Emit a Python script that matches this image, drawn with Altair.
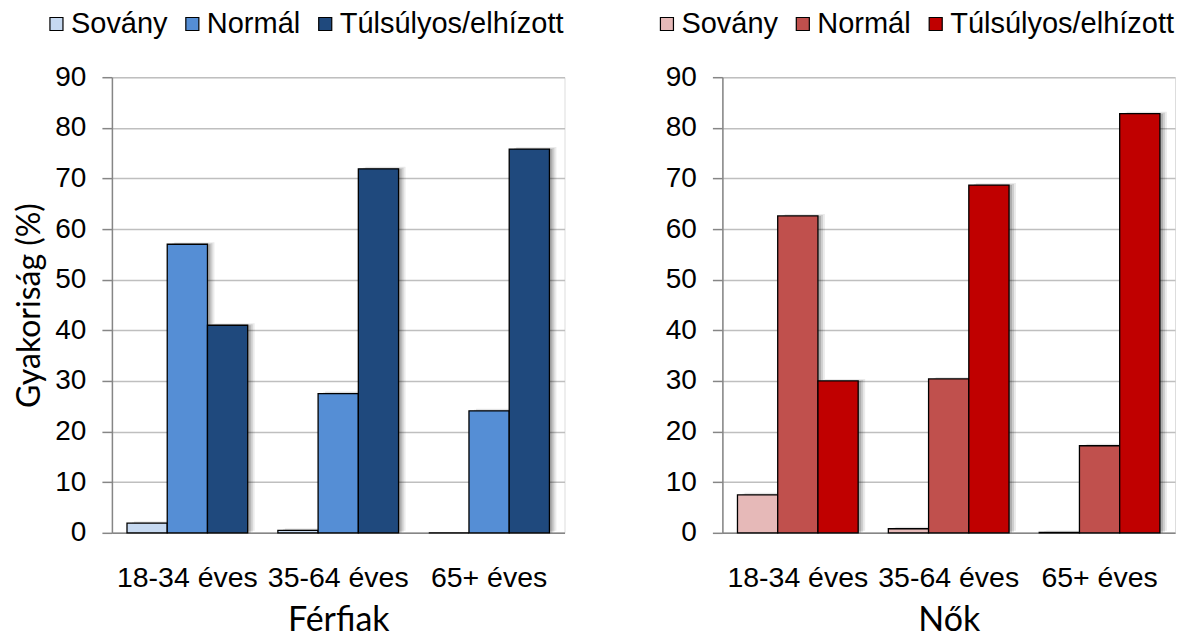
import altair as alt
import pandas as pd

ages = ["18-34 éves", "35-64 éves", "65+ éves"]
cats = ["Sovány", "Normál", "Túlsúlyos/elhízott"]

ferfi_sovany = [1.9, 0.5, 0.0]
ferfi_normal = [57.0, 27.5, 24.1]
ferfi_tul = [41.0, 71.9, 75.8]

no_sovany = [7.5, 0.8, 0.1]
no_normal = [62.6, 30.4, 17.2]
no_tul = [30.0, 68.7, 82.8]

ferfi_colors = ["#C6D9F1", "#558ED5", "#1F497D"]
no_colors = ["#E6B9B8", "#C0504D", "#C00000"]

y_ticks = [0, 10, 20, 30, 40, 50, 60, 70, 80, 90]

PW = 453
BW = PW / 3 * 0.8  # group band width


def long_df(s, n, t):
    rows = []
    for i, a in enumerate(ages):
        for c, v in zip(cats, [s[i], n[i], t[i]]):
            rows.append({"age": a, "cat": c, "val": v})
    return pd.DataFrame(rows)


def panel(df, colors, ytitle, xtitle, lx):
    base = alt.Chart(df)
    x = alt.X("age:N", sort=ages,
              scale=alt.Scale(paddingInner=0.2, paddingOuter=0.1),
              axis=alt.Axis(title=xtitle, labelAngle=0, ticks=False, tickSize=0,
                            labelPadding=31, labelFont="Liberation Sans",
                            labelFontSize=28.5, labelColor="black",
                            titleFont="Lato", titleFontSize=34,
                            titleFontWeight="normal", titleColor="black",
                            titlePadding=11, domainColor="#868686",
                            domainWidth=1.5, grid=False))
    xo = alt.XOffset("cat:N", sort=cats,
                     scale=alt.Scale(paddingInner=0, paddingOuter=0))
    yaxis = dict(values=y_ticks, labelFont="Liberation Sans", labelFontSize=28,
                 labelColor="black", tickSize=10, tickColor="#868686",
                 tickWidth=1.5, labelPadding=16, domainColor="#868686",
                 domainWidth=1.5, grid=True, gridColor="#BFBFBF",
                 gridWidth=1.5)
    if ytitle:
        yaxis.update(title=ytitle, titleFont="Lato", titleFontSize=32,
                     titleFontWeight="normal", titleColor="black",
                     titlePadding=8)
    else:
        yaxis.update(title=None)
    y = alt.Y("val:Q", scale=alt.Scale(domain=[0, 90], nice=False),
              axis=alt.Axis(**yaxis))

    def shadow(dx, dy, op):
        xs = alt.XOffset("cat:N", sort=cats,
                         scale=alt.Scale(domain=cats, range=[dx, BW + dx],
                                         paddingInner=0, paddingOuter=0))
        return base.mark_bar(color="#000000", opacity=op, yOffset=dy).encode(
            x=x, xOffset=xs, y=y)

    sh = alt.layer(shadow(7, -2, 0.08), shadow(5, -1, 0.12), shadow(3, 0, 0.16)
                   ).resolve_scale(xOffset="independent")
    bars = base.mark_bar(stroke="black", strokeWidth=1.3).encode(
        x=x, xOffset=xo, y=y,
        color=alt.Color("cat:N", sort=cats,
                        scale=alt.Scale(domain=cats, range=colors),
                        legend=alt.Legend(title=None, orient="none",
                                          legendX=lx, legendY=-68,
                                          direction="horizontal",
                                          symbolType="square", symbolSize=170,
                                          symbolStrokeColor="black",
                                          symbolStrokeWidth=1.2,
                                          symbolOpacity=1,
                                          labelFont="Liberation Sans",
                                          labelFontSize=29, labelColor="black",
                                          labelLimit=0,
                                          labelOffset=0, columnPadding=10)))
    return alt.layer(sh, bars).resolve_scale(xOffset="independent").properties(
        width=PW, height=456)


left = panel(long_df(ferfi_sovany, ferfi_normal, ferfi_tul), ferfi_colors,
             "Gyakoriság (%)", "Férfiak", -70)
right = panel(long_df(no_sovany, no_normal, no_tul), no_colors,
              None, "Nők", -70)

chart = alt.hconcat(left, right, spacing=86).resolve_scale(
    color="independent").resolve_legend(color="independent").properties(
    padding={"left": 5, "top": 0, "right": 0, "bottom": 0}).configure_view(
    stroke="#A6A6A6", strokeWidth=1.5).configure(background="white")

chart.save("out.html", embed_options={"renderer": "svg", "actions": False})
